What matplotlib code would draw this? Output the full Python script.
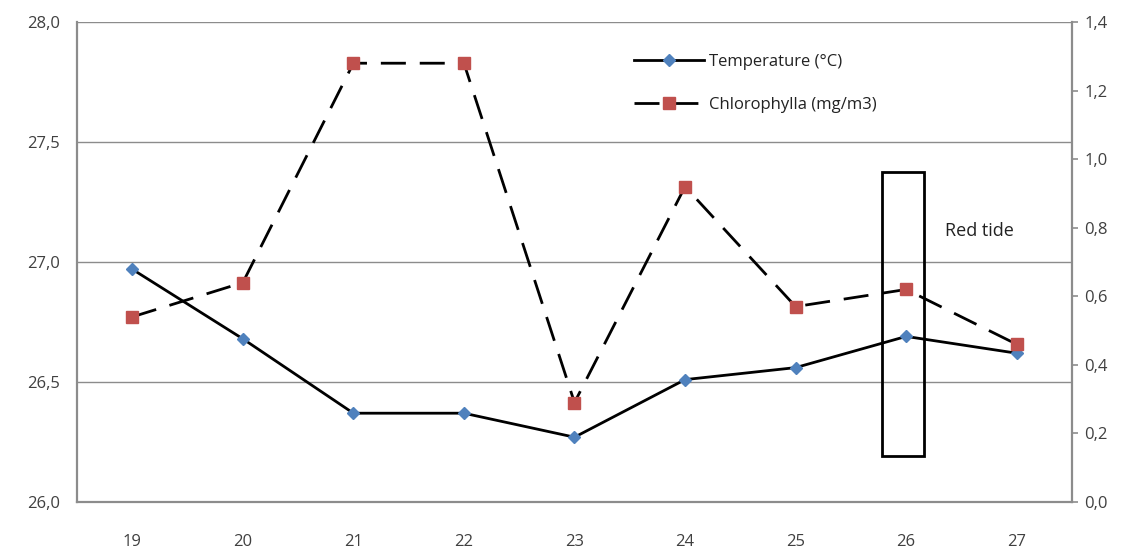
import numpy as np
import matplotlib.pyplot as plt
from matplotlib.patches import Rectangle

# --- Data ---
days = ["19", "20", "21", "22", "23", "24", "25", "26", "27"]
temperature = [26.97, 26.68, 26.37, 26.37, 26.27, 26.51, 26.56, 26.69, 26.62]
chlorophyll = [0.54, 0.64, 1.28, 1.28, 0.29, 0.92, 0.57, 0.62, 0.46]
left_ticks = [26.0, 26.5, 27.0, 27.5, 28.0]
right_ticks = [0.0, 0.2, 0.4, 0.6, 0.8, 1.0, 1.2, 1.4]
red_tide_day = "26"

plt.rcParams['font.family'] = ['Open Sans', 'DejaVu Sans']

fig = plt.figure(figsize=(11.29, 5.52), dpi=100)
ax = fig.add_axes([0.0682, 0.0906, 0.8813, 0.8694])
ax2 = ax.twinx()

x = np.arange(len(days))
grid_col = "#8c8c8c"

# Grid and frame
for v in left_ticks[1:]:
    ax.axhline(v, color=grid_col, lw=1.0, zorder=0)
ax.spines["top"].set_visible(False)
ax2.spines["top"].set_visible(False)
ax.spines["right"].set_visible(False)
ax2.spines["left"].set_visible(False)
ax2.spines["bottom"].set_visible(False)
for s in ["left", "bottom"]:
    ax.spines[s].set_color(grid_col)
    ax.spines[s].set_linewidth(1.6)
ax2.spines["right"].set_color(grid_col)
ax2.spines["right"].set_linewidth(1.6)

# Lines
l1, = ax.plot(x, temperature, color="black", lw=2, marker="D", ms=6,
              mfc="#4F81BD", mec="#4F81BD", zorder=3, label="Temperature (°C)")
l2, = ax2.plot(x, chlorophyll, color="black", lw=2, ls=(0, (9, 5)), marker="s", ms=9,
               mfc="#C0504D", mec="#C0504D", zorder=3, label="Chlorophylla (mg/m3)")

ax.set_xlim(-0.5, len(days) - 0.5)
ax.set_ylim(26.0, 28.0)
ax2.set_ylim(0.0, 1.4)
ax.set_xticks(x)
ax.set_xticklabels(days)
ax.set_yticks(left_ticks)
ax.set_yticklabels([f"{v:.1f}".replace(".", ",") for v in left_ticks])
ax2.set_yticks(right_ticks)
ax2.set_yticklabels([f"{v:.1f}".replace(".", ",") for v in right_ticks])

ax.tick_params(axis="x", length=0, pad=23, labelsize=12, colors="#404040")
ax.tick_params(axis="y", length=0, pad=12, labelsize=12, colors="#404040")
ax2.tick_params(axis="y", length=4, width=1.2, pad=5, labelsize=12,
                colors="#404040")
ax2.tick_params(axis="y", color=grid_col)

# Red tide box
i = days.index(red_tide_day)
ax.add_patch(Rectangle((i - 0.22, 26.19), 0.38, 27.375 - 26.19, fill=False,
                       edgecolor="black", lw=2, zorder=4))
ax.text(i + 0.355, 27.13, "Red tide", fontsize=13, color="#222222",
        va="center", ha="left")

leg = ax.legend(handles=[l1, l2], loc="upper left", bbox_to_anchor=(0.545, 0.965),
                frameon=False, fontsize=12, handlelength=4.2, labelspacing=1.6,
                handletextpad=0.3)
for t in leg.get_texts():
    t.set_color("#222222")

fig.savefig("out.png", dpi=100)
